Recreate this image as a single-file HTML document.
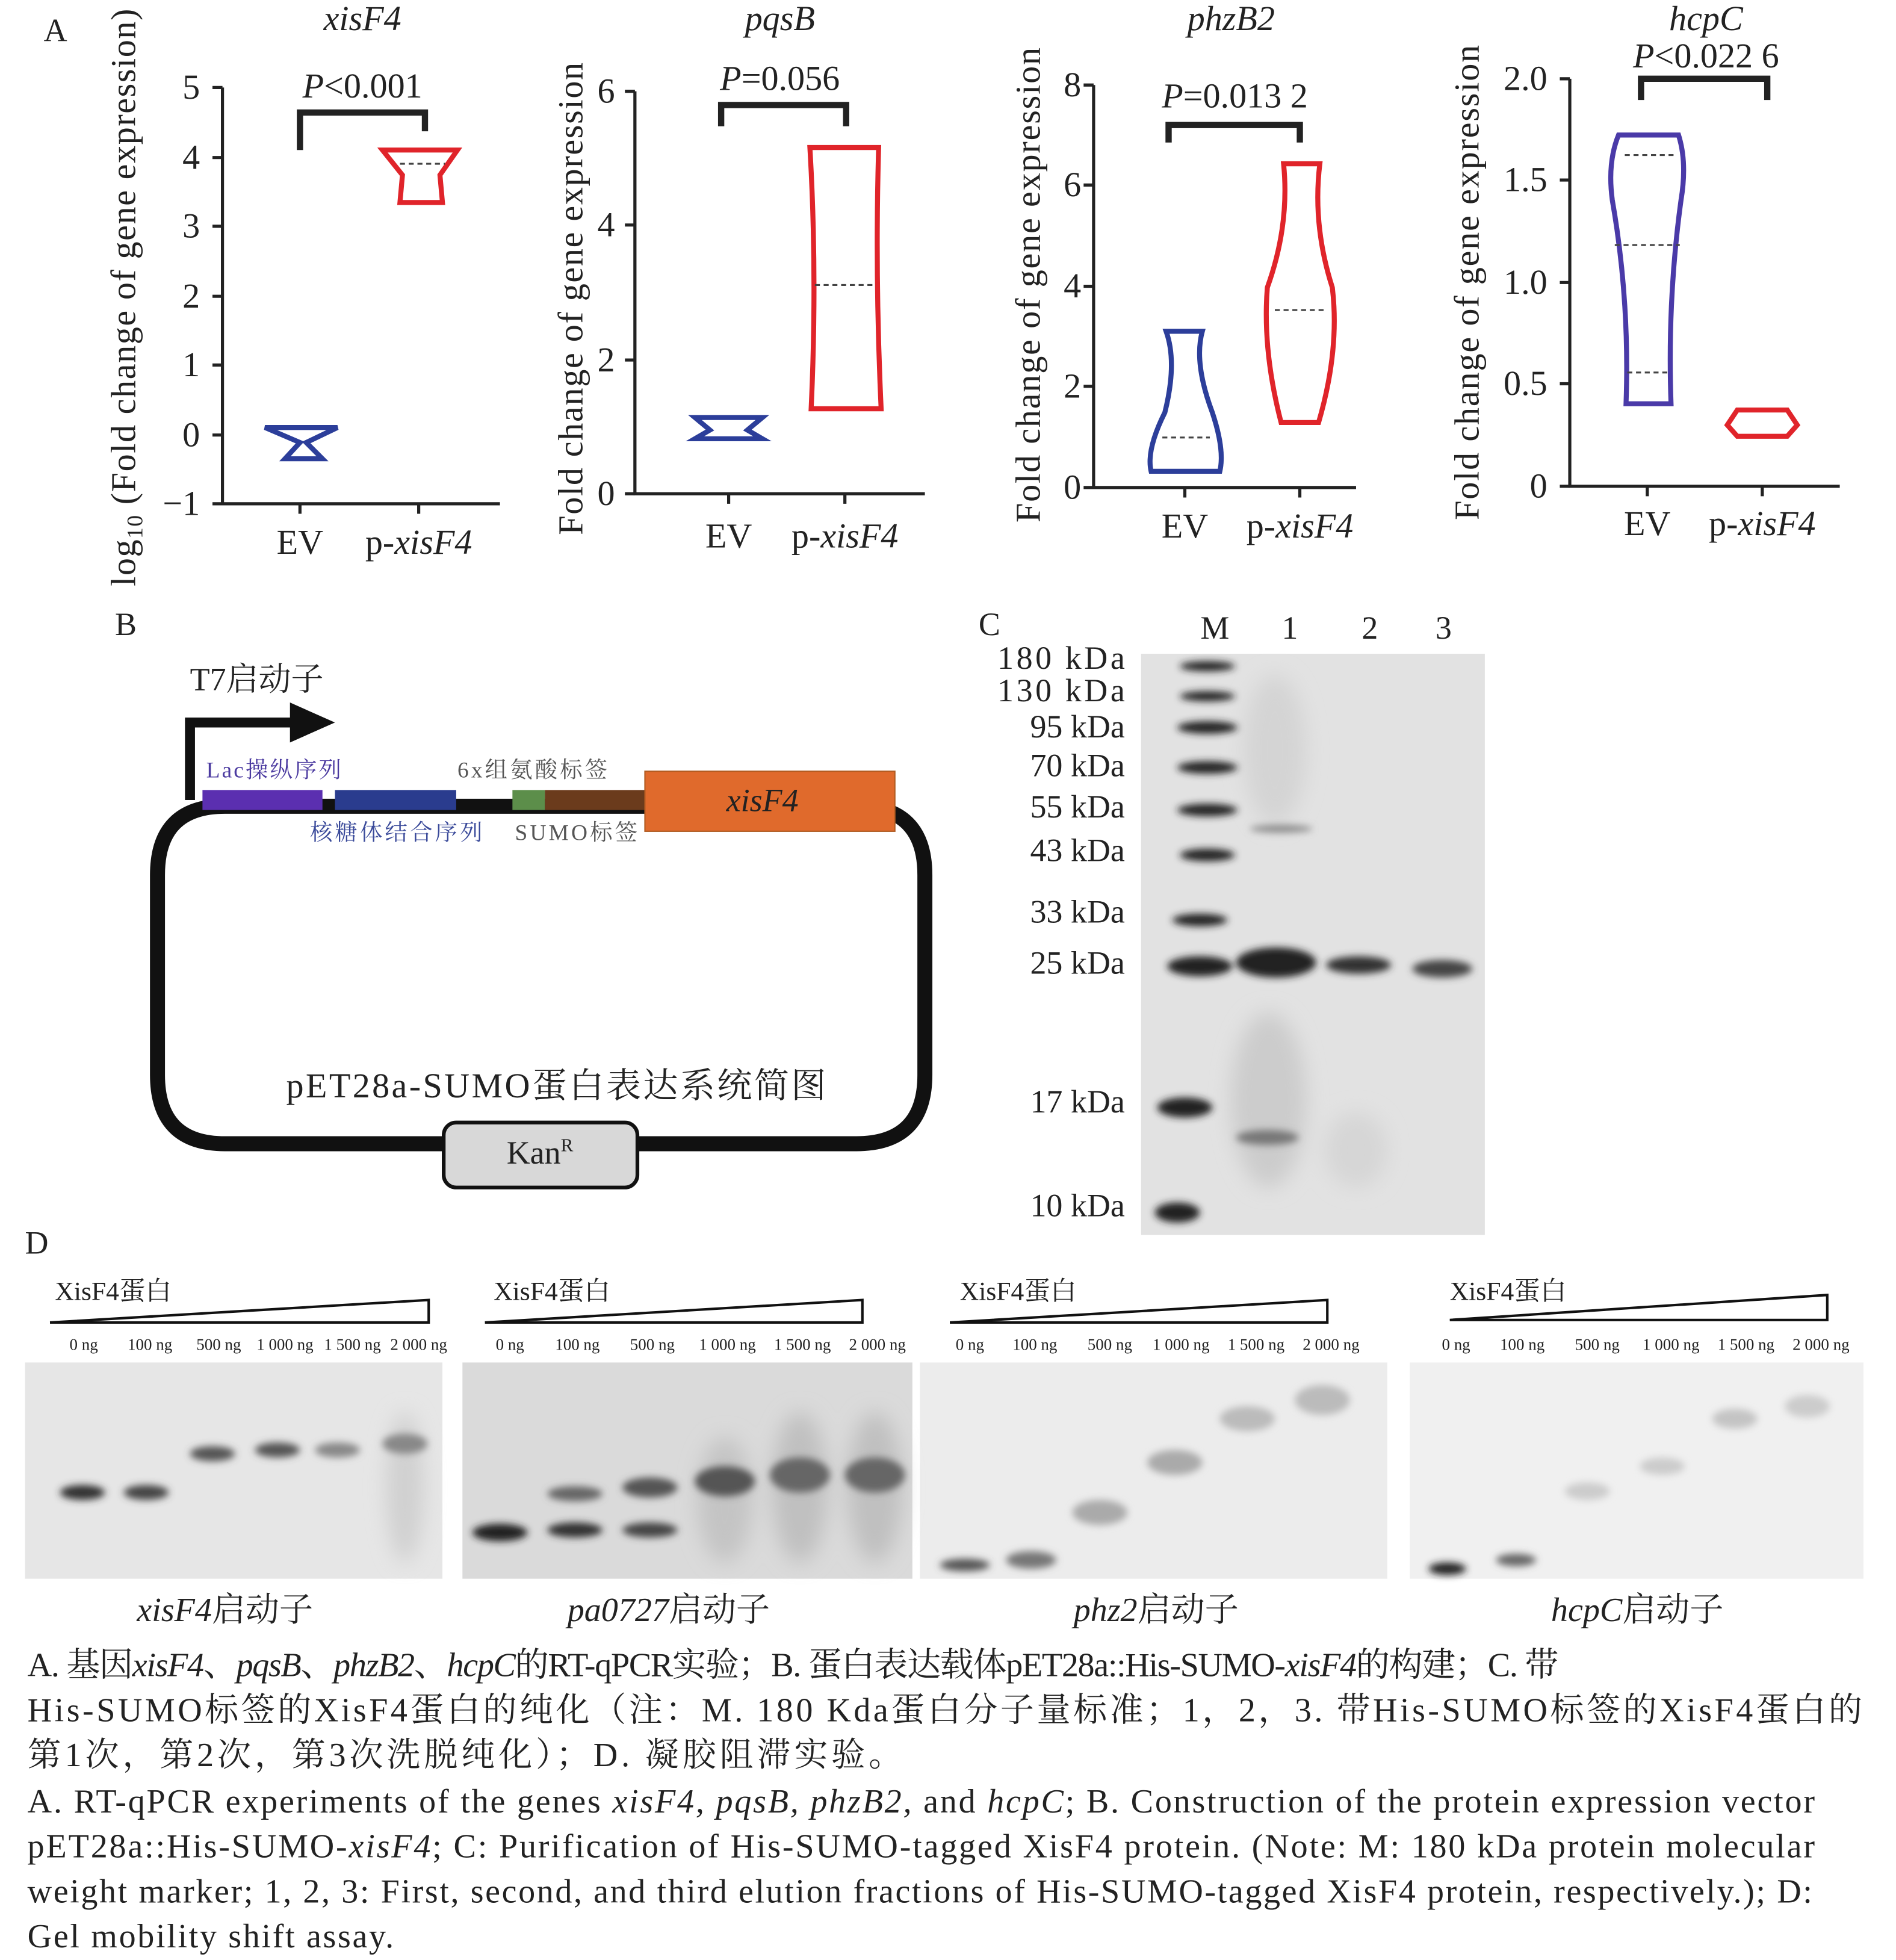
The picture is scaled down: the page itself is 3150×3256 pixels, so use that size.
<!DOCTYPE html>
<html><head><meta charset="utf-8"><style>
html,body{margin:0;padding:0;background:#fff}
svg{display:block}
text{font-family:"Liberation Serif","Noto Serif CJK SC",serif;fill:#222}
</style></head><body>
<svg width="3150" height="3256" viewBox="0 0 1517 1568" xmlns="http://www.w3.org/2000/svg">
<defs>
<filter id="bl" x="-50%" y="-50%" width="200%" height="200%"><feGaussianBlur stdDeviation="3"/></filter>
<filter id="bl2" x="-50%" y="-50%" width="200%" height="200%"><feGaussianBlur stdDeviation="8"/></filter>
</defs>
<rect width="1517" height="1568" fill="#fff"/>
<g font-size="28">
<text x="35" y="33" font-size="26">A</text>
<!-- Plot 1 -->
<g stroke="#222" stroke-width="2.5" fill="none">
<path d="M178 70 V403 H400"/>
<path d="M170 70H178M170 126H178M170 181H178M170 237H178M170 292H178M170 348H178M170 403H178M240 403V411M335 403V411"/>
<path d="M240 120V90H340V105" stroke-width="5"/>
</g>
<g text-anchor="end"><text x="160" y="79">5</text><text x="160" y="135">4</text><text x="160" y="190">3</text><text x="160" y="246">2</text><text x="160" y="301">1</text><text x="160" y="357">0</text><text x="160" y="412">−1</text></g>
<text x="290" y="24" text-anchor="middle" font-style="italic">xisF4</text>
<text x="290" y="78" text-anchor="middle"><tspan font-style="italic">P</tspan>&lt;0.001</text>
<text x="240" y="443" text-anchor="middle">EV</text>
<text x="335" y="443" text-anchor="middle">p-<tspan font-style="italic">xisF4</tspan></text>
<text transform="translate(108 238) rotate(-90)" text-anchor="middle" textLength="462" lengthAdjust="spacing">log<tspan font-size="18" dy="6">10</tspan><tspan dy="-6"> (Fold change of gene expression)</tspan></text>
<path d="M212 342H270L245 354L258 367H228L240 354Z" fill="none" stroke="#2c3e9a" stroke-width="4"/>
<path d="M306 120H366L352 140L354 162H320L322 140Z" fill="none" stroke="#e0242a" stroke-width="4"/>
<path d="M320 131H356" stroke="#444" stroke-dasharray="4 3" stroke-width="1.5"/>
<!-- Plot 2 -->
<g stroke="#222" stroke-width="2.5" fill="none">
<path d="M508 73V395H740"/>
<path d="M500 73H508M500 180H508M500 288H508M500 395H508M583 395V403M676 395V403"/>
<path d="M577 101V84H677V101" stroke-width="5"/>
</g>
<g text-anchor="end"><text x="492" y="82">6</text><text x="492" y="189">4</text><text x="492" y="297">2</text><text x="492" y="404">0</text></g>
<text x="624" y="24" text-anchor="middle" font-style="italic">pqsB</text>
<text x="624" y="72" text-anchor="middle"><tspan font-style="italic">P</tspan>=0.056</text>
<text x="583" y="438" text-anchor="middle">EV</text>
<text x="676" y="438" text-anchor="middle">p-<tspan font-style="italic">xisF4</tspan></text>
<text transform="translate(466 239) rotate(-90)" text-anchor="middle" textLength="378" lengthAdjust="spacing">Fold change of gene expression</text>
<path d="M556 334H610L598 344L610 351H556L568 344Z" fill="none" stroke="#2c3e9a" stroke-width="4"/>
<path d="M648 118H703Q700 220 705 327H649Q654 220 648 118Z" fill="none" stroke="#e0242a" stroke-width="4"/>
<path d="M652 228H701" stroke="#444" stroke-dasharray="4 3" stroke-width="1.5"/>
<!-- Plot 3 -->
<g stroke="#222" stroke-width="2.5" fill="none">
<path d="M875 68V390H1085"/>
<path d="M867 68H875M867 148H875M867 229H875M867 309H875M867 390H875M948 390V398M1040 390V398"/>
<path d="M935 114V100H1040V114" stroke-width="5"/>
</g>
<g text-anchor="end"><text x="865" y="77">8</text><text x="865" y="157">6</text><text x="865" y="238">4</text><text x="865" y="318">2</text><text x="865" y="399">0</text></g>
<text x="985" y="24" text-anchor="middle" font-style="italic">phzB2</text>
<text x="988" y="86" text-anchor="middle"><tspan font-style="italic">P</tspan>=0.013 2</text>
<text x="948" y="430" text-anchor="middle">EV</text>
<text x="1040" y="430" text-anchor="middle">p-<tspan font-style="italic">xisF4</tspan></text>
<text transform="translate(832 228) rotate(-90)" text-anchor="middle" textLength="380" lengthAdjust="spacing">Fold change of gene expression</text>
<path d="M933 265H962Q955 290 970 330Q980 360 976 377H921Q917 360 932 330Q942 290 933 265Z" fill="none" stroke="#2c3e9a" stroke-width="4"/>
<path d="M930 350H968" stroke="#444" stroke-dasharray="4 3" stroke-width="1.5"/>
<path d="M1027 131H1056Q1050 180 1066 230Q1072 280 1055 338H1025Q1010 280 1014 230Q1032 180 1027 131Z" fill="none" stroke="#e0242a" stroke-width="4"/>
<path d="M1020 248H1062" stroke="#444" stroke-dasharray="4 3" stroke-width="1.5"/>
<!-- Plot 4 -->
<g stroke="#222" stroke-width="2.5" fill="none">
<path d="M1256 63V389H1472"/>
<path d="M1248 63H1256M1248 144H1256M1248 226H1256M1248 307H1256M1248 389H1256M1318 389V397M1410 389V397"/>
<path d="M1313 80V63H1414V80" stroke-width="5"/>
</g>
<g text-anchor="end"><text x="1238" y="72">2.0</text><text x="1238" y="153">1.5</text><text x="1238" y="235">1.0</text><text x="1238" y="316">0.5</text><text x="1238" y="398">0</text></g>
<text x="1365" y="24" text-anchor="middle" font-style="italic">hcpC</text>
<text x="1365" y="54" text-anchor="middle"><tspan font-style="italic">P</tspan>&lt;0.022 6</text>
<text x="1318" y="428" text-anchor="middle">EV</text>
<text x="1410" y="428" text-anchor="middle">p-<tspan font-style="italic">xisF4</tspan></text>
<text transform="translate(1183 226) rotate(-90)" text-anchor="middle" textLength="380" lengthAdjust="spacing">Fold change of gene expression</text>
<path d="M1295 108H1343Q1350 130 1345 160Q1334 240 1337 323H1301Q1304 240 1290 160Q1286 130 1295 108Z" fill="none" stroke="#4a3aa8" stroke-width="4"/>
<path d="M1292 196H1344M1300 124H1340M1302 298H1336" stroke="#444" stroke-dasharray="4 3" stroke-width="1.5"/>
<path d="M1390 328H1430L1438 340L1430 349H1390L1382 340Z" fill="none" stroke="#e0242a" stroke-width="4"/>
</g>
<!-- Panel B -->
<text x="92" y="508" font-size="26">B</text>
<text x="152" y="552" font-size="26">T7启动子</text>
<path d="M126 700Q126 645 180 645H685Q740 645 740 700V860Q740 915 685 915H180Q126 915 126 860Z" fill="none" stroke="#111" stroke-width="12"/>
<path d="M152 640V578H240" fill="none" stroke="#111" stroke-width="8"/>
<path d="M232 562L268 578L232 594Z" fill="#111"/>
<rect x="162" y="632" width="96" height="16" fill="#5b2fb0"/>
<rect x="268" y="632" width="97" height="16" fill="#2a3c8e"/>
<rect x="410" y="632" width="26" height="16" fill="#5c8e4a"/>
<rect x="436" y="632" width="82" height="16" fill="#6b3b1c"/>
<rect x="516" y="617" width="200" height="48" fill="#e06a2c" stroke="#b05a20"/>
<text x="610" y="649" text-anchor="middle" font-size="26" font-style="italic">xisF4</text>
<text x="165" y="622" font-size="18" style="fill:#4b3aa0" textLength="108">Lac操纵序列</text>
<text x="366" y="622" font-size="18" style="fill:#555" textLength="120">6x组氨酸标签</text>
<text x="248" y="672" font-size="18" style="fill:#3a4a9a" textLength="138">核糖体结合序列</text>
<text x="412" y="672" font-size="18" style="fill:#555" textLength="98">SUMO标签</text>
<text x="445" y="878" text-anchor="middle" font-size="28" textLength="432">pET28a-SUMO蛋白表达系统简图</text>
<rect x="355" y="898" width="155" height="52" rx="10" fill="#d8d8d8" stroke="#111" stroke-width="3"/>
<text x="432" y="931" text-anchor="middle" font-size="26">Kan<tspan font-size="15" dy="-10">R</tspan></text>
<!-- Panel C -->
<text x="783" y="508" font-size="26">C</text>
<g font-size="26"><text x="972" y="511" text-anchor="middle">M</text><text x="1032" y="511" text-anchor="middle">1</text><text x="1096" y="511" text-anchor="middle">2</text><text x="1155" y="511" text-anchor="middle">3</text></g>
<rect x="913" y="523" width="275" height="465" fill="#e2e2e2"/>
<g text-anchor="end" font-size="26">
<text x="900" y="535" textLength="102">180 kDa</text><text x="900" y="561" textLength="102">130 kDa</text><text x="900" y="590">95 kDa</text><text x="900" y="621">70 kDa</text><text x="900" y="654">55 kDa</text><text x="900" y="689">43 kDa</text><text x="900" y="738">33 kDa</text><text x="900" y="779">25 kDa</text><text x="900" y="890">17 kDa</text><text x="900" y="973">10 kDa</text>
</g>
<g filter="url(#bl2)">
<ellipse cx="1015" cy="880" rx="30" ry="70" fill="#ccc"/>
<ellipse cx="1020" cy="600" rx="25" ry="60" fill="#d4d4d4"/>
<ellipse cx="1085" cy="920" rx="25" ry="30" fill="#d6d6d6"/>
</g>
<g fill="#222" filter="url(#bl)">
<ellipse cx="966" cy="533" rx="22" ry="4"/><ellipse cx="966" cy="557" rx="22" ry="4"/><ellipse cx="966" cy="582" rx="24" ry="5"/><ellipse cx="966" cy="614" rx="24" ry="5"/><ellipse cx="966" cy="648" rx="24" ry="5"/><ellipse cx="966" cy="684" rx="22" ry="5"/><ellipse cx="960" cy="736" rx="22" ry="5"/><ellipse cx="960" cy="773" rx="26" ry="8"/><ellipse cx="948" cy="886" rx="22" ry="8"/><ellipse cx="942" cy="970" rx="18" ry="8"/>
<ellipse cx="1021" cy="770" rx="32" ry="12"/>
<ellipse cx="1087" cy="772" rx="26" ry="7" fill="#333"/>
<ellipse cx="1154" cy="775" rx="24" ry="7" fill="#444"/>
<ellipse cx="1014" cy="910" rx="25" ry="6" fill="#777"/>
<ellipse cx="1025" cy="663" rx="25" ry="3" fill="#888"/>
</g>
<!-- Panel D -->
<text x="20" y="1003" font-size="26">D</text>
<g font-size="21">
<text x="44" y="1040">XisF4蛋白</text><text x="395" y="1040">XisF4蛋白</text><text x="768" y="1040">XisF4蛋白</text><text x="1160" y="1040">XisF4蛋白</text>
</g>
<g fill="#fff" stroke="#111" stroke-width="2">
<path d="M40 1058L343 1040V1058Z"/><path d="M388 1058L690 1040V1058Z"/><path d="M760 1058L1062 1040V1058Z"/><path d="M1160 1056L1462 1036V1056Z"/>
</g>
<g font-size="13" text-anchor="middle">
<text x="67" y="1080">0 ng</text><text x="120" y="1080">100 ng</text><text x="175" y="1080">500 ng</text><text x="228" y="1080">1 000 ng</text><text x="282" y="1080">1 500 ng</text><text x="335" y="1080">2 000 ng</text>
<text x="408" y="1080">0 ng</text><text x="462" y="1080">100 ng</text><text x="522" y="1080">500 ng</text><text x="582" y="1080">1 000 ng</text><text x="642" y="1080">1 500 ng</text><text x="702" y="1080">2 000 ng</text>
<text x="776" y="1080">0 ng</text><text x="828" y="1080">100 ng</text><text x="888" y="1080">500 ng</text><text x="945" y="1080">1 000 ng</text><text x="1005" y="1080">1 500 ng</text><text x="1065" y="1080">2 000 ng</text>
<text x="1165" y="1080">0 ng</text><text x="1218" y="1080">100 ng</text><text x="1278" y="1080">500 ng</text><text x="1337" y="1080">1 000 ng</text><text x="1397" y="1080">1 500 ng</text><text x="1457" y="1080">2 000 ng</text>
</g>
<rect x="20" y="1090" width="334" height="173" fill="#e6e6e6"/>
<rect x="370" y="1090" width="360" height="173" fill="#dadada"/>
<rect x="736" y="1090" width="374" height="173" fill="#ececec"/>
<rect x="1128" y="1090" width="363" height="173" fill="#f0f0f0"/>
<g filter="url(#bl2)">
<ellipse cx="580" cy="1200" rx="22" ry="50" fill="#c4c4c4"/><ellipse cx="640" cy="1190" rx="22" ry="60" fill="#c0c0c0"/><ellipse cx="700" cy="1190" rx="22" ry="60" fill="#c0c0c0"/>
<ellipse cx="324" cy="1190" rx="15" ry="60" fill="#d0d0d0"/>
</g>
<g filter="url(#bl)">
<ellipse cx="66" cy="1194" rx="18" ry="6" fill="#333"/><ellipse cx="117" cy="1194" rx="18" ry="6" fill="#444"/><ellipse cx="170" cy="1163" rx="18" ry="6" fill="#555"/><ellipse cx="222" cy="1160" rx="18" ry="6" fill="#555"/><ellipse cx="270" cy="1160" rx="18" ry="6" fill="#888"/><ellipse cx="324" cy="1155" rx="18" ry="8" fill="#888"/>
<ellipse cx="400" cy="1226" rx="22" ry="7" fill="#222"/><ellipse cx="460" cy="1224" rx="22" ry="6" fill="#333"/><ellipse cx="460" cy="1195" rx="22" ry="6" fill="#666"/><ellipse cx="520" cy="1224" rx="22" ry="6" fill="#444"/><ellipse cx="520" cy="1190" rx="22" ry="8" fill="#555"/><ellipse cx="580" cy="1185" rx="24" ry="12" fill="#555"/><ellipse cx="640" cy="1180" rx="24" ry="14" fill="#666"/><ellipse cx="700" cy="1180" rx="24" ry="14" fill="#666"/>
<ellipse cx="772" cy="1252" rx="20" ry="5" fill="#555"/><ellipse cx="825" cy="1248" rx="20" ry="7" fill="#777"/><ellipse cx="880" cy="1210" rx="22" ry="10" fill="#aaa"/><ellipse cx="940" cy="1170" rx="22" ry="10" fill="#aaa"/><ellipse cx="998" cy="1135" rx="22" ry="10" fill="#bbb"/><ellipse cx="1058" cy="1120" rx="22" ry="12" fill="#bbb"/>
<ellipse cx="1158" cy="1255" rx="15" ry="5" fill="#222"/><ellipse cx="1213" cy="1248" rx="16" ry="5" fill="#666"/><ellipse cx="1270" cy="1193" rx="18" ry="7" fill="#ccc"/><ellipse cx="1330" cy="1173" rx="18" ry="7" fill="#ccc"/><ellipse cx="1388" cy="1135" rx="18" ry="8" fill="#c4c4c4"/><ellipse cx="1446" cy="1125" rx="18" ry="9" fill="#ccc"/>
</g>
<g font-size="27" text-anchor="middle">
<text x="180" y="1297"><tspan font-style="italic">xisF4</tspan>启动子</text>
<text x="535" y="1297"><tspan font-style="italic">pa0727</tspan>启动子</text>
<text x="925" y="1297"><tspan font-style="italic">phz2</tspan>启动子</text>
<text x="1310" y="1297"><tspan font-style="italic">hcpC</tspan>启动子</text>
</g>
<g font-size="27">
<text x="22" y="1341" textLength="1225" lengthAdjust="spacing">A. 基因<tspan font-style="italic">xisF4</tspan>、<tspan font-style="italic">pqsB</tspan>、<tspan font-style="italic">phzB2</tspan>、<tspan font-style="italic">hcpC</tspan>的RT-qPCR实验；B. 蛋白表达载体pET28a::His-SUMO-<tspan font-style="italic">xisF4</tspan>的构建；C. 带</text>
<text x="22" y="1377" textLength="1468" lengthAdjust="spacing">His-SUMO标签的XisF4蛋白的纯化（注：M. 180 Kda蛋白分子量标准；1，2，3. 带His-SUMO标签的XisF4蛋白的</text>
<text x="22" y="1413" textLength="700" lengthAdjust="spacing">第1次，第2次，第3次洗脱纯化）；D. 凝胶阻滞实验。</text>
<text x="22" y="1450" textLength="1430" lengthAdjust="spacing">A. RT-qPCR experiments of the genes <tspan font-style="italic">xisF4, pqsB, phzB2,</tspan> and <tspan font-style="italic">hcpC</tspan>; B. Construction of the protein expression vector</text>
<text x="22" y="1486" textLength="1430" lengthAdjust="spacing">pET28a::His-SUMO-<tspan font-style="italic">xisF4</tspan>; C: Purification of His-SUMO-tagged XisF4 protein. (Note: M: 180 kDa protein molecular</text>
<text x="22" y="1522" textLength="1428" lengthAdjust="spacing">weight marker; 1, 2, 3: First, second, and third elution fractions of His-SUMO-tagged XisF4 protein, respectively.); D:</text>
<text x="22" y="1558" textLength="293" lengthAdjust="spacing">Gel mobility shift assay.</text>
</g>
</svg>
</body></html>
